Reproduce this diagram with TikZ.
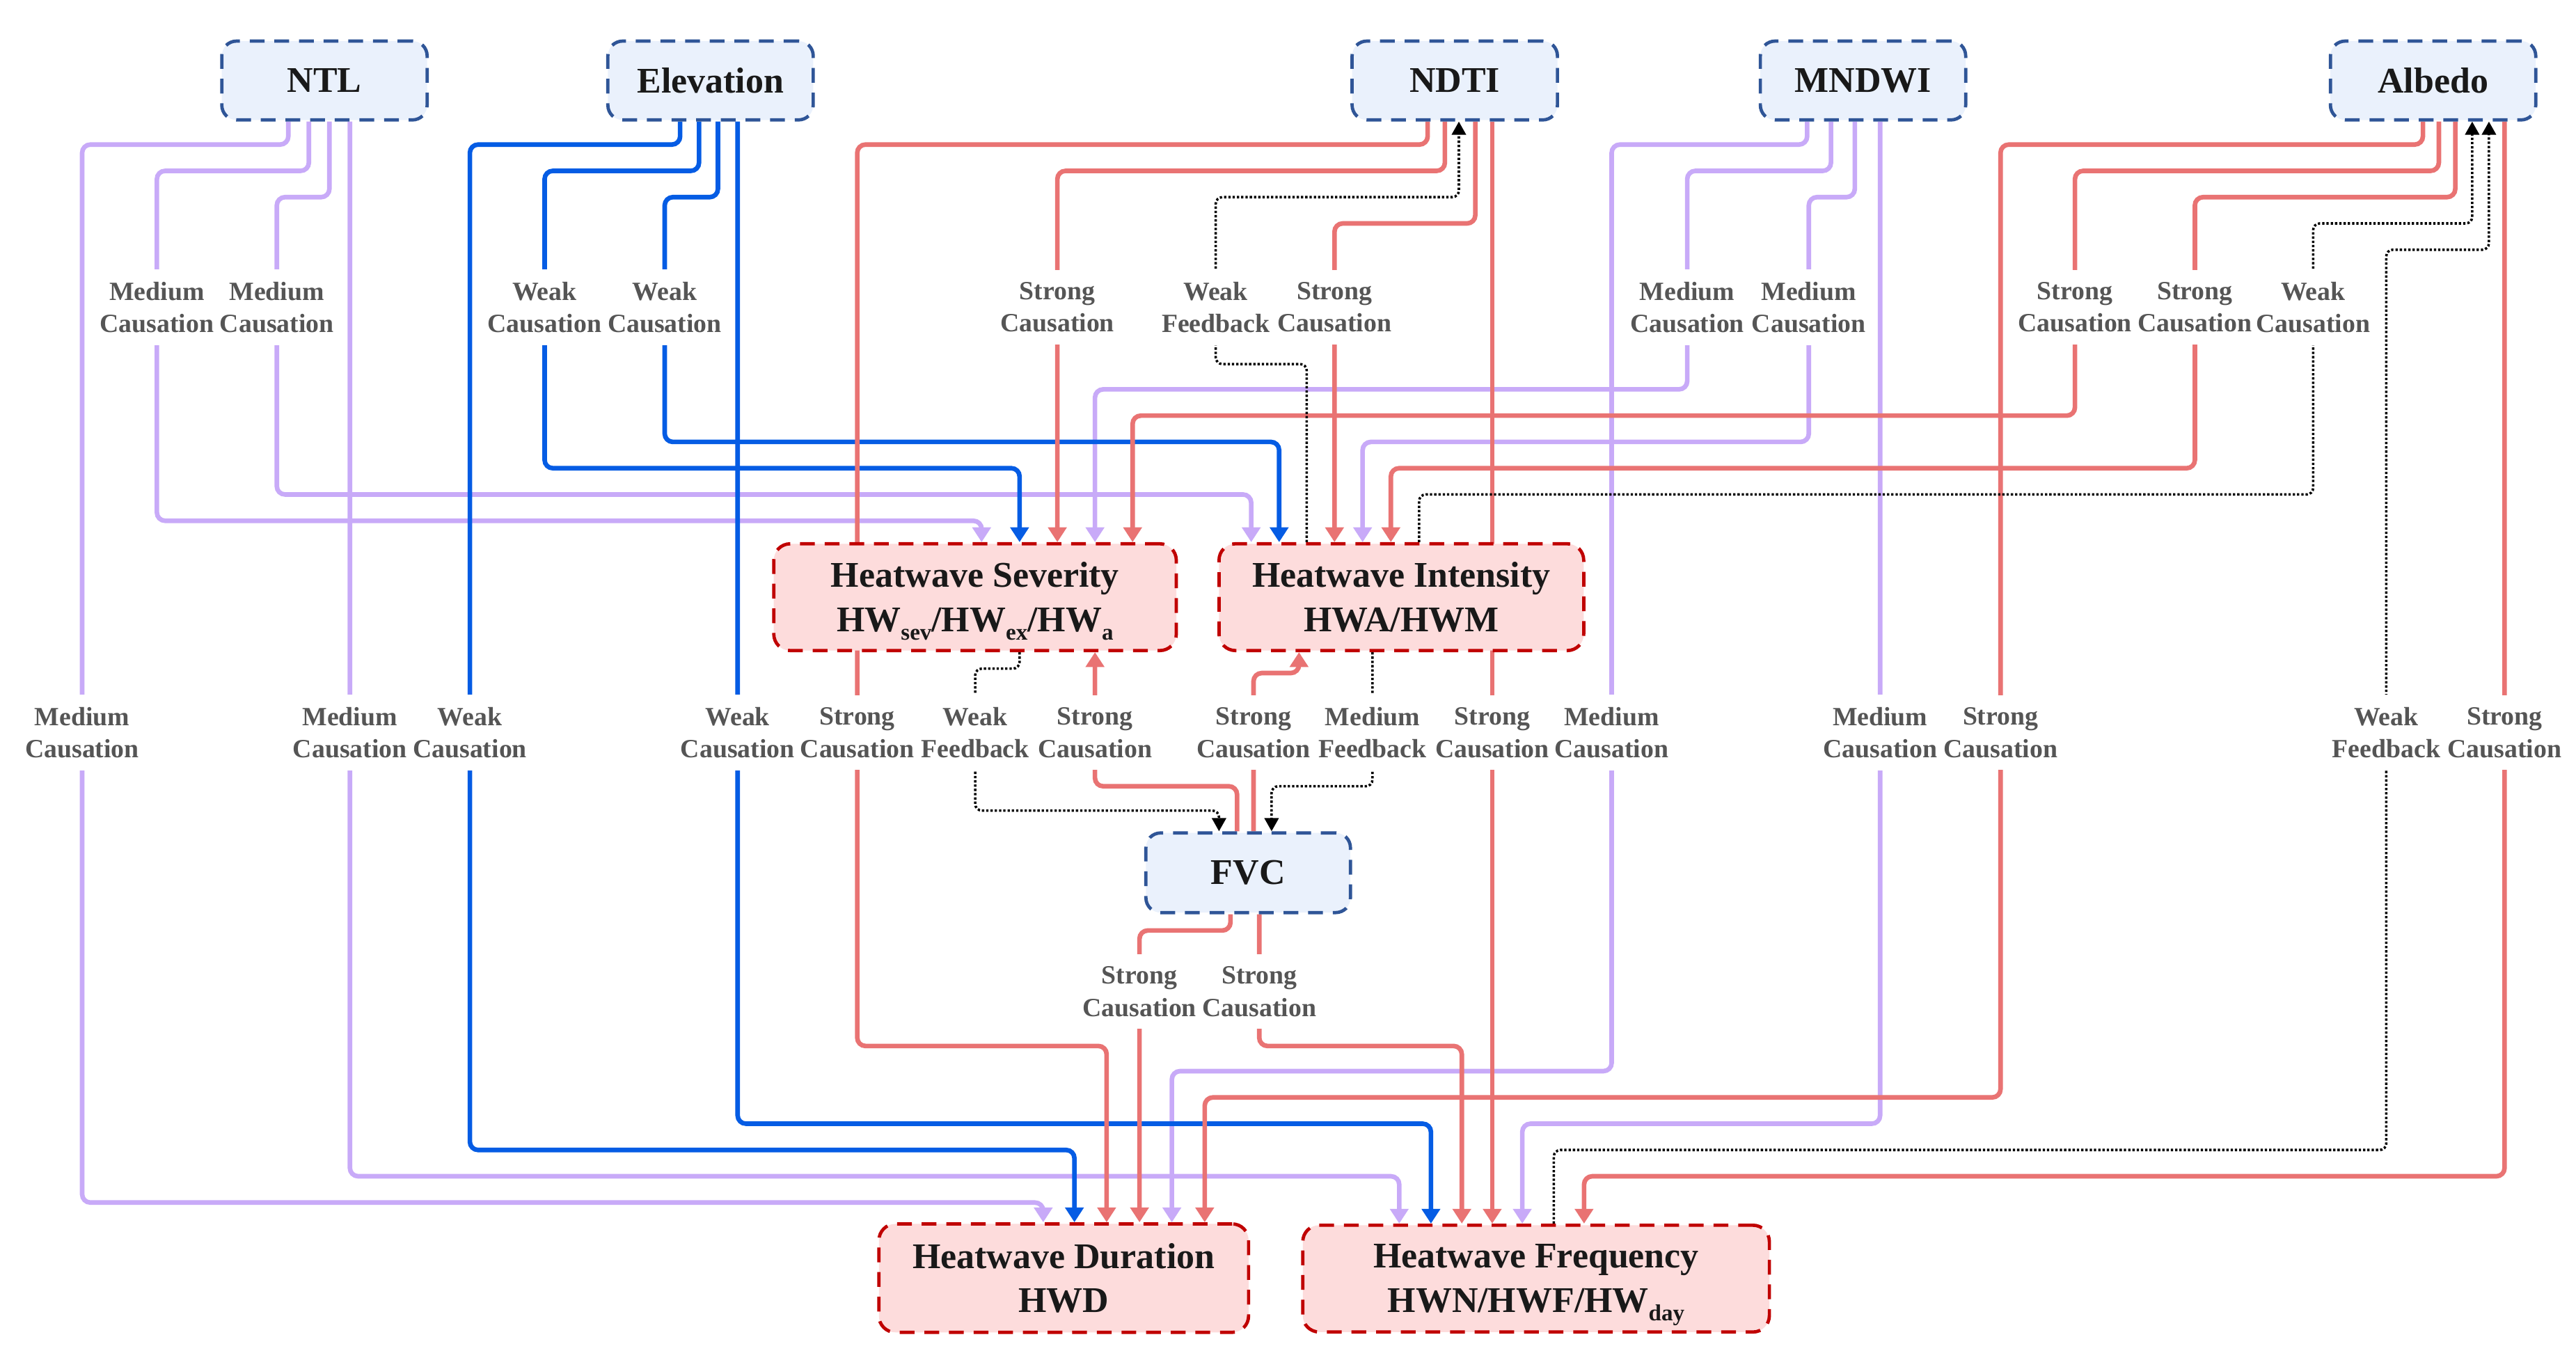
\documentclass[tikz,border=0pt]{standalone}
\usepackage{fontspec}
\setmainfont{Liberation Serif}
\usetikzlibrary{arrows.meta}
\definecolor{cpur}{RGB}{200,170,248}
\definecolor{cred}{RGB}{233,115,115}
\definecolor{cblue}{RGB}{5,92,228}
\definecolor{boxblue}{RGB}{47,85,151}
\definecolor{fillblue}{RGB}{234,241,252}
\definecolor{boxred}{RGB}{192,0,0}
\definecolor{fillred}{RGB}{253,220,220}
\definecolor{labgray}{RGB}{85,85,85}
\definecolor{txt}{RGB}{25,25,25}
\newcommand\hwsub[1]{\smash{\raisebox{-5pt}{\fontsize{14}{14}\selectfont #1}}}
\pgfdeclarelayer{bg}
\pgfsetlayers{bg,main}
\tikzset{
  topbox/.style={draw=boxblue, fill=fillblue, dash pattern=on 9pt off 6pt, line width=2pt,
    rounded corners=9pt, minimum width=125pt, minimum height=48pt, inner sep=0pt,
    font=\fontsize{22}{27}\selectfont\bfseries, text=txt},
  hwbox/.style={draw=boxred, fill=fillred, dash pattern=on 9pt off 6pt, line width=2pt,
    rounded corners=10pt, minimum height=65pt, inner sep=0pt, align=center,
    font=\fontsize{22}{27}\selectfont\bfseries, text=txt},
  lab/.style={fill=white, inner xsep=1pt, inner ysep=7.5pt, align=center,
    font=\fontsize{16}{19.7}\selectfont\bfseries, text=labgray},
  arr/.style={-{Triangle[length=9pt,width=11pt]}},
  pur/.style={draw=cpur, line width=2.8pt, rounded corners=5pt, arr},
  red/.style={draw=cred, line width=2.8pt, rounded corners=5pt, arr},
  blu/.style={draw=cblue, line width=2.8pt, rounded corners=5pt, arr},
  dotl/.style={draw=black, line width=1.5pt, dash pattern=on 1.4pt off 1.2pt,
    rounded corners=4pt, -{Triangle[length=8pt,width=8.5pt]}},
}
\begin{document}
\begin{tikzpicture}[x=1pt,y=-1pt]
\useasboundingbox (0,0) rectangle (1568,827.8);
% nodes
\node[topbox] (ntl) at (197.5,49) {NTL};
\node[topbox] (elev) at (432.5,49) {Elevation};
\node[topbox] (ndti) at (885.5,49) {NDTI};
\node[topbox] (mndwi) at (1134,49) {MNDWI};
\node[topbox] (albedo) at (1481,49) {Albedo};
\node[hwbox, minimum width=245pt] (sev) at (593.5,363.5) {Heatwave Severity\\HW\hwsub{sev}/HW\hwsub{ex}/HW\hwsub{a}};
\node[hwbox, minimum width=222pt] (int) at (853,363.5) {Heatwave Intensity\\HWA/HWM};
\node[topbox, minimum width=124.5pt, minimum height=48.5pt] (fvc) at (759.75,531.25) {FVC};
\node[hwbox, minimum width=225pt, minimum height=66pt] (hwd) at (647.5,778) {Heatwave Duration\\HWD};
\node[hwbox, minimum width=284pt, minimum height=65pt] (hwf) at (935,778.3) {Heatwave Frequency\\HWN/HWF/HW\hwsub{day}};

\begin{pgfonlayer}{bg}
\fill[white] (0,0) rectangle (1568,827.8);
% NTL (purple)
\draw[pur] (175.5,0 |- ntl.south) -- (175.5,88) -- (50,88) -- (50,732) -- (635,732) -- (635,0 |- hwd.north);
\draw[pur] (188,0 |- ntl.south) -- (188,104) -- (95.5,104) -- (95.5,317) -- (597.5,317) -- (597.5,0 |- sev.north);
\draw[pur] (200.5,0 |- ntl.south) -- (200.5,120) -- (168.5,120) -- (168.5,301) -- (761.6,301) -- (761.6,0 |- int.north);
\draw[pur] (213,0 |- ntl.south) -- (213,716) -- (851.7,716) -- (851.7,0 |- hwf.north);
% MNDWI (purple)
\draw[pur] (1100,0 |- mndwi.south) -- (1100,88) -- (981,88) -- (981,652) -- (713.3,652) -- (713.3,0 |- hwd.north);
\draw[pur] (1114.5,0 |- mndwi.south) -- (1114.5,104) -- (1027,104) -- (1027,237) -- (666.5,237) -- (666.5,0 |- sev.north);
\draw[pur] (1129,0 |- mndwi.south) -- (1129,120) -- (1101,120) -- (1101,269) -- (829.4,269) -- (829.4,0 |- int.north);
\draw[pur] (1144.4,0 |- mndwi.south) -- (1144.4,684) -- (926.6,684) -- (926.6,0 |- hwf.north);
% Elevation (blue)
\draw[blu] (414,0 |- elev.south) -- (414,88) -- (286,88) -- (286,700) -- (654,700) -- (654,0 |- hwd.north);
\draw[blu] (425.5,0 |- elev.south) -- (425.5,104) -- (331.5,104) -- (331.5,285) -- (620.6,285) -- (620.6,0 |- sev.north);
\draw[blu] (437,0 |- elev.south) -- (437,120) -- (404.6,120) -- (404.6,269) -- (778.6,269) -- (778.6,0 |- int.north);
\draw[blu] (449,0 |- elev.south) -- (449,684) -- (871,684) -- (871,0 |- hwf.north);
% NDTI (red)
\draw[red] (869,0 |- ndti.south) -- (869,88) -- (521.8,88) -- (521.8,636.7) -- (673.6,636.7) -- (673.6,0 |- hwd.north);
\draw[red] (879.5,0 |- ndti.south) -- (879.5,104) -- (643.6,104) -- (643.6,0 |- sev.north);
\draw[red] (898,0 |- ndti.south) -- (898,136) -- (812.3,136) -- (812.3,0 |- int.north);
\draw[red] (908.3,0 |- ndti.south) -- (908.3,0 |- hwf.north);
% Albedo (red)
\draw[red] (1474.8,0 |- albedo.south) -- (1474.8,88) -- (1217.7,88) -- (1217.7,668) -- (733.3,668) -- (733.3,0 |- hwd.north);
\draw[red] (1484.5,0 |- albedo.south) -- (1484.5,104) -- (1263,104) -- (1263,253) -- (689.4,253) -- (689.4,0 |- sev.north);
\draw[red] (1494.5,0 |- albedo.south) -- (1494.5,120) -- (1336,120) -- (1336,285) -- (846.6,285) -- (846.6,0 |- int.north);
\draw[red] (1524.5,0 |- albedo.south) -- (1524.5,716) -- (964.2,716) -- (964.2,0 |- hwf.north);
% FVC (red)
\draw[red] (753,0 |- fvc.north) -- (753,478.6) -- (666.5,478.6) -- (666.5,0 |- sev.south);
\draw[red] (763,0 |- fvc.north) -- (763,409.7) -- (790.7,409.7) -- (790.7,0 |- int.south);
\draw[red] (749,0 |- fvc.south) -- (749,566.4) -- (693.6,566.4) -- (693.6,0 |- hwd.north);
\draw[red] (766.5,0 |- fvc.south) -- (766.5,636.7) -- (889.8,636.7) -- (889.8,0 |- hwf.north);
% feedbacks (dotted)
\draw[dotl] (795.4,0 |- int.north) -- (795.4,221.6) -- (740,221.6) -- (740,120) -- (888,120) -- (888,0 |- ndti.south);
\draw[dotl] (863.8,0 |- int.north) -- (863.8,301) -- (1408,301) -- (1408,136) -- (1504.8,136) -- (1504.8,0 |- albedo.south);
\draw[dotl] (945.8,0 |- hwf.north) -- (945.8,700) -- (1452.5,700) -- (1452.5,152) -- (1515,152) -- (1515,0 |- albedo.south);
\draw[dotl] (620.6,0 |- sev.south) -- (620.6,407) -- (593.6,407) -- (593.6,493.4) -- (742,493.4) -- (742,0 |- fvc.north);
\draw[dotl] (835.4,0 |- int.south) -- (835.4,478.6) -- (774,478.6) -- (774,0 |- fvc.north);
\end{pgfonlayer}

% labels (top row)
\node[lab] (t1) at (95.5,187) {Medium\\Causation};
\node[lab] (t2) at (168.5,187) {Medium\\Causation};
\node[lab] (t3) at (331.5,187) {Weak\\Causation};
\node[lab] (t4) at (404.6,187) {Weak\\Causation};
\node[lab] (t5) at (643.6,187) {Strong\\Causation};
\node[lab] (t6) at (740,187) {Weak\\Feedback};
\node[lab] (t7) at (812.3,187) {Strong\\Causation};
\node[lab] (t8) at (1027,187) {Medium\\Causation};
\node[lab] (t9) at (1101,187) {Medium\\Causation};
\node[lab] (t10) at (1263,187) {Strong\\Causation};
\node[lab] (t11) at (1336,187) {Strong\\Causation};
\node[lab] (t12) at (1408,187) {Weak\\Causation};
% labels (middle row)
\node[lab] (m1) at (50,446) {Medium\\Causation};
\node[lab] (m2) at (213,446) {Medium\\Causation};
\node[lab] (m3) at (286,446) {Weak\\Causation};
\node[lab] (m4) at (449,446) {Weak\\Causation};
\node[lab] (m5) at (521.8,446) {Strong\\Causation};
\node[lab] (m6) at (593.6,446) {Weak\\Feedback};
\node[lab] (m7) at (666.5,446) {Strong\\Causation};
\node[lab] (m8) at (763,446) {Strong\\Causation};
\node[lab] (m9) at (835.4,446) {Medium\\Feedback};
\node[lab] (m10) at (908.3,446) {Strong\\Causation};
\node[lab] (m11) at (981,446) {Medium\\Causation};
\node[lab] (m12) at (1144.4,446) {Medium\\Causation};
\node[lab] (m13) at (1217.7,446) {Strong\\Causation};
\node[lab] (m14) at (1452.5,446) {Weak\\Feedback};
\node[lab] (m15) at (1524.5,446) {Strong\\Causation};
% labels (below FVC)
\node[lab] (f1) at (693.6,603.5) {Strong\\Causation};
\node[lab] (f2) at (766.5,603.5) {Strong\\Causation};
\end{tikzpicture}
\end{document}
